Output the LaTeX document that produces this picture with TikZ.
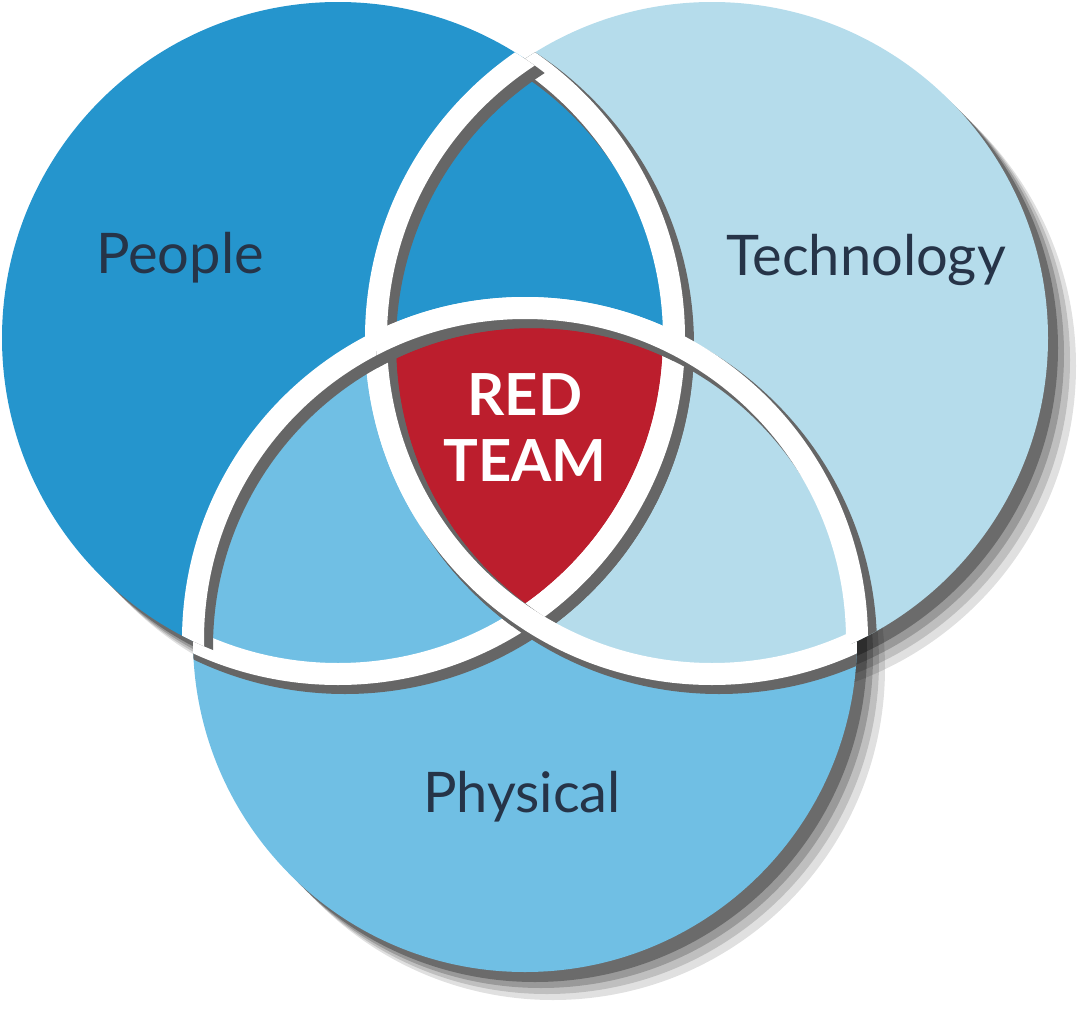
\documentclass[tikz,border=0pt]{standalone}
\usepackage{fontspec}
\setmainfont{Lato}
\definecolor{cdark}{HTML}{2595CD}
\definecolor{cmid}{HTML}{70BFE4}
\definecolor{clight}{HTML}{B5DCEB}
\definecolor{cred}{HTML}{BC1E2D}
\definecolor{ctext}{HTML}{263448}
\tikzset{lbl/.style={text=ctext,font=\fontsize{56}{64}\selectfont},
 gapshadow/.style={draw=black!60,line width=26pt},
 gapwhite/.style={draw=white,line width=22pt}}
\def\cP{(338,338) circle[radius=336pt]}
\def\cT{(712,338) circle[radius=336pt]}
\def\cH{(525,640) circle[radius=332pt]}
\begin{document}
\begin{tikzpicture}[x=1pt,y=-1pt]
\useasboundingbox (0,0) rectangle (1080,1020);
% outer shadow
\foreach \o/\op in {28/0.12,22/0.15,16/0.2,10/0.3}{
 \begin{scope}[shift={(\o,\o)},opacity=\op]
 \fill[black] \cP; \fill[black] \cT; \fill[black] \cH;
 \end{scope}}
\fill[cdark] \cP; \fill[clight] \cT; \fill[cmid] \cH;
\begin{scope}\clip \cP; \fill[cdark] \cT; \end{scope}
\begin{scope}\clip \cP; \fill[cmid] \cH; \end{scope}
\begin{scope}\clip \cT; \fill[clight] \cH; \end{scope}
\begin{scope}\clip \cP; \clip \cT; \fill[cred] \cH; \end{scope}
% gaps
\foreach \A/\B/\C in {P/T/H,T/P/H,H/P/T}{
 \foreach \D in {\B,\C}{
  \begin{scope}
   \clip \csname c\D\endcsname;
   \begin{scope}[shift={(7,7)}]\path[gapshadow] \csname c\A\endcsname;\end{scope}
   \path[gapwhite] \csname c\A\endcsname;
  \end{scope}}}
\node[lbl] (people) at (180,258) {People};
\node[lbl] (tech) at (866,260) {Technology};
\node[lbl] (phys) at (522,797) {Physical};
\node[text=white,font=\bfseries\fontsize{58}{66}\selectfont,align=center] (red) at (525,428) {RED\\TEAM};
\end{tikzpicture}
\end{document}
